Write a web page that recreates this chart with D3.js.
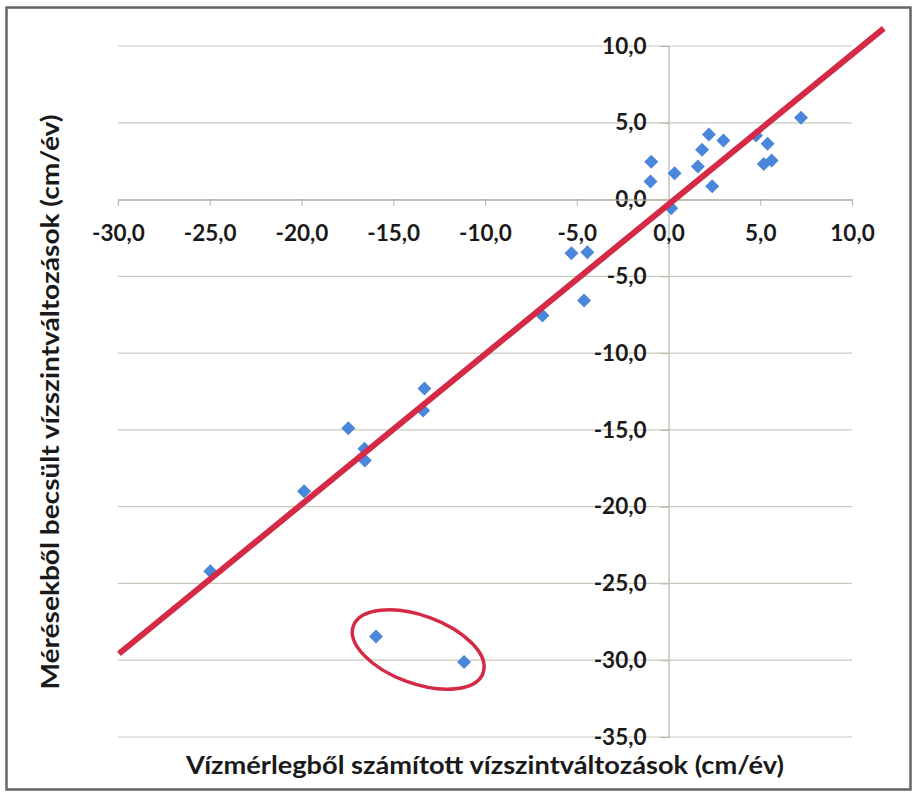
<!DOCTYPE html>
<html>
<head>
<meta charset="utf-8">
<script src="https://cdn.jsdelivr.net/npm/d3@7/dist/d3.min.js"></script>
<style>
  html, body { margin: 0; padding: 0; background: #fff; }
  svg { display: block; }
  text { font-family: Lato, "Open Sans", sans-serif; font-weight: 700; fill: #1a1a1a; }
</style>
</head>
<body>
<svg id="chart" width="914" height="794"></svg>
<script>
// Water-level change: water-balance estimate (x) vs. measurement-based estimate (y), cm/year
const calcX = [-24.97, -19.86, -17.45, -16.57, -16.55, -13.37, -13.30, -6.87, -5.29, -4.42, -4.60,
               -0.94, -0.98, 0.33, 0.15, 1.60, 1.83, 2.20, 2.38, 2.99, 4.77, 5.40, 5.19, 5.62, 7.22,
               -15.94, -11.14];
const measY = [-24.20, -18.99, -14.89, -16.23, -16.99, -13.74, -12.30, -7.55, -3.49, -3.43, -6.58,
               2.47, 1.17, 1.71, -0.57, 2.15, 3.24, 4.23, 0.87, 3.84, 4.17, 3.63, 2.32, 2.54, 5.32,
               -28.45, -30.12];

// Trend line end points
const lineX = [-29.95, 11.73];
const lineY = [-29.58, 11.15];

// Outlier group highlighted by the ellipse (centre in data units)
const outlierCentre = [-13.64, -29.3];

const xTicks = [-30, -25, -20, -15, -10, -5, 0, 5, 10];
const yTicks = [10, 5, 0, -5, -10, -15, -20, -25, -30, -35];

const xTitle = "Vízmérlegből számított vízszintváltozások (cm/év)";
const yTitle = "Mérésekből becsült vízszintváltozások (cm/év)";

const fmt = v => d3.format(".1f")(v).replace(".", ",").replace("−", "-");

const svg = d3.select("#chart");
const x = d3.scaleLinear().domain([-30, 10]).range([118, 852]);
const y = d3.scaleLinear().domain([-35, 10]).range([737, 46]);

// outer frame
svg.append("rect")
  .attr("x", 6.5).attr("y", 7.5).attr("width", 904).attr("height", 782)
  .attr("fill", "none").attr("stroke", "#666").attr("stroke-width", 2.5);

// horizontal gridlines
svg.append("g").selectAll("line").data(yTicks).join("line")
  .attr("x1", x(-30)).attr("x2", x(10))
  .attr("y1", d => y(d)).attr("y2", d => y(d))
  .attr("stroke", "#c9c9bd").attr("stroke-width", 1.2);

const tickFont = sel => sel
  .attr("font-size", 22.5).attr("font-family", "Lato, sans-serif").attr("font-weight", 700)
  .attr("fill", "#1a1a1a");

// y axis through x = 0
const yAxis = svg.append("g")
  .attr("transform", `translate(${x(0)},0)`)
  .call(d3.axisLeft(y).tickValues(yTicks).tickFormat(fmt).tickSize(8).tickPadding(14));
yAxis.select(".domain").attr("stroke", "#b5b5a8").attr("stroke-width", 1.2);
yAxis.selectAll(".tick line").attr("stroke", "#b5b5a8");
yAxis.selectAll(".tick text").call(tickFont);

// x axis through y = 0
const xAxis = svg.append("g")
  .attr("transform", `translate(0,${y(0)})`)
  .call(d3.axisBottom(x).tickValues(xTicks).tickFormat(fmt).tickSize(6).tickPadding(19));
xAxis.select(".domain").attr("stroke", "#b5b5a8").attr("stroke-width", 1.2);
xAxis.selectAll(".tick line").attr("stroke", "#b5b5a8");
xAxis.selectAll(".tick text").call(tickFont);

// data points (diamonds)
const pts = calcX.map((v, i) => [v, measY[i]]);
svg.append("g").selectAll("path").data(pts).join("path")
  .attr("transform", d => `translate(${x(d[0])},${y(d[1])})`)
  .attr("d", d3.symbol(d3.symbolDiamond2, 125))
  .attr("fill", "#4a86da");

// trend line
svg.append("line")
  .attr("x1", x(lineX[0])).attr("y1", y(lineY[0]))
  .attr("x2", x(lineX[1])).attr("y2", y(lineY[1]))
  .attr("stroke", "#d42a45").attr("stroke-width", 6).attr("stroke-linecap", "butt");

// ellipse around the outliers
svg.append("ellipse")
  .attr("transform", `translate(${x(outlierCentre[0])},${y(outlierCentre[1])}) rotate(20)`)
  .attr("rx", 69).attr("ry", 34)
  .attr("fill", "none").attr("stroke", "#d42a45").attr("stroke-width", 3.5);

// axis titles
svg.append("text")
  .attr("x", 485).attr("y", 774).attr("text-anchor", "middle")
  .attr("font-size", 24)
  .attr("textLength", 598).attr("lengthAdjust", "spacingAndGlyphs")
  .text(xTitle);

svg.append("text")
  .attr("transform", "translate(59,402) rotate(-90)")
  .attr("text-anchor", "middle")
  .attr("font-size", 24)
  .attr("textLength", 575).attr("lengthAdjust", "spacingAndGlyphs")
  .text(yTitle);
</script>
</body>
</html>
